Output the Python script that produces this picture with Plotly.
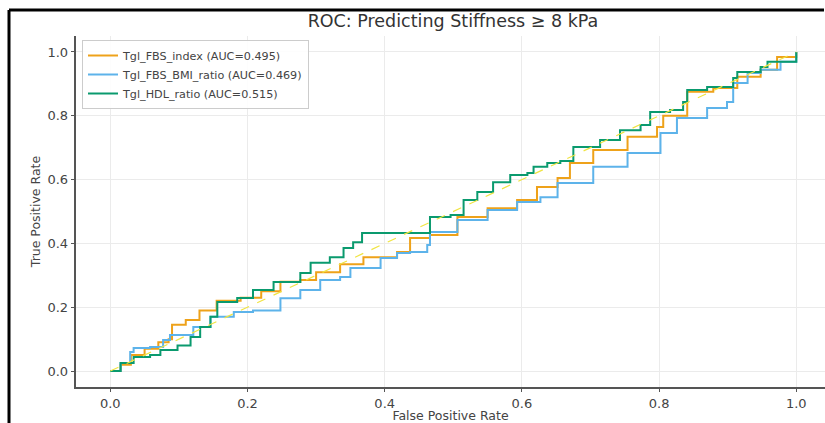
import plotly.graph_objects as go

# ---- data ----
fbs_index_fpr = [0, 0.015, 0.03, 0.05, 0.07, 0.085, 0.09, 0.11, 0.13, 0.155, 0.19, 0.22, 0.248, 0.277, 0.30,
                 0.335, 0.369, 0.418, 0.437, 0.466, 0.506, 0.55, 0.593, 0.622, 0.652, 0.67, 0.704, 0.754,
                 0.797, 0.806, 0.841, 0.879, 0.914, 0.948, 0.972, 1.0]
fbs_index_tpr = [0, 0.02, 0.05, 0.07, 0.09, 0.10, 0.145, 0.16, 0.19, 0.22, 0.23, 0.25, 0.28, 0.285, 0.31,
                 0.335, 0.357, 0.373, 0.417, 0.426, 0.483, 0.51, 0.536, 0.577, 0.605, 0.652, 0.693, 0.734,
                 0.765, 0.80, 0.875, 0.887, 0.922, 0.944, 0.984, 1.0]

fbs_bmi_fpr = [0, 0.015, 0.029, 0.034, 0.058, 0.077, 0.087, 0.106, 0.121, 0.146, 0.18, 0.208, 0.248, 0.277,
               0.306, 0.335, 0.35, 0.394, 0.418, 0.437, 0.462, 0.466, 0.506, 0.55, 0.593, 0.627, 0.652, 0.704,
               0.754, 0.802, 0.826, 0.87, 0.899, 0.908, 0.929, 0.948, 0.977, 1.0]
fbs_bmi_tpr = [0, 0.025, 0.06, 0.072, 0.075, 0.097, 0.113, 0.113, 0.138, 0.17, 0.185, 0.19, 0.228, 0.254,
               0.285, 0.295, 0.323, 0.354, 0.37, 0.373, 0.395, 0.436, 0.473, 0.505, 0.53, 0.545, 0.589, 0.64,
               0.683, 0.746, 0.793, 0.824, 0.843, 0.903, 0.934, 0.944, 0.969, 1.0]

hdl_fpr = [0, 0.015, 0.034, 0.058, 0.073, 0.098, 0.117, 0.131, 0.146, 0.156, 0.185, 0.208, 0.238, 0.277,
           0.292, 0.32, 0.34, 0.354, 0.367, 0.447, 0.466, 0.496, 0.515, 0.535, 0.558, 0.583, 0.608, 0.617,
           0.637, 0.656, 0.675, 0.714, 0.743, 0.773, 0.787, 0.816, 0.835, 0.841, 0.87, 0.908, 0.914, 0.948,
           0.958, 1.0]
hdl_tpr = [0, 0.025, 0.044, 0.05, 0.066, 0.08, 0.107, 0.138, 0.17, 0.216, 0.229, 0.254, 0.279, 0.307,
           0.339, 0.357, 0.386, 0.404, 0.433, 0.433, 0.483, 0.489, 0.536, 0.561, 0.592, 0.614, 0.621, 0.64,
           0.652, 0.658, 0.702, 0.724, 0.755, 0.771, 0.812, 0.818, 0.843, 0.881, 0.89, 0.918, 0.937, 0.953,
           0.969, 1.0]

chance_x = [0, 1]
chance_y = [0, 1]

series_names = ["Tgl_FBS_index (AUC=0.495)", "Tgl_FBS_BMI_ratio (AUC=0.469)", "Tgl_HDL_ratio (AUC=0.515)"]
series_colors = ["#EEA21A", "#5DB3EA", "#0A9A6E"]

tick_vals = [0.0, 0.2, 0.4, 0.6, 0.8, 1.0]
tick_text = ["0.0", "0.2", "0.4", "0.6", "0.8", "1.0"]

# ---- figure ----
W, H = 825, 423
L, R, T, B = 76, 0, 36, 36

fig = go.Figure()
for xs, ys, name, col in zip([fbs_index_fpr, fbs_bmi_fpr, hdl_fpr],
                             [fbs_index_tpr, fbs_bmi_tpr, hdl_tpr],
                             series_names, series_colors):
    fig.add_trace(go.Scatter(x=xs, y=ys, mode="lines", name=name,
                             line=dict(color=col, width=2, shape="hv")))
fig.add_trace(go.Scatter(x=chance_x, y=chance_y, mode="lines", showlegend=False,
                         line=dict(color="#F0E442", width=1.2, dash="dash")))

# frame lines (pixel -> paper)
pw, ph = W - L - R, H - T - B
def px(xp):
    return (xp - L) / pw
def py(yp):
    return (H - B - yp) / ph

fig.add_shape(type="line", xref="paper", yref="paper", x0=px(9), x1=px(824), y0=py(10), y1=py(10),
              line=dict(color="black", width=3))
fig.add_shape(type="line", xref="paper", yref="paper", x0=px(9), x1=px(9), y0=py(10), y1=py(424),
              line=dict(color="black", width=3))

axis_common = dict(
    showgrid=True, gridcolor="#ebebeb", gridwidth=1, zeroline=False,
    showline=True, linecolor="#555555", linewidth=1.5,
    ticks="outside", ticklen=3.5, tickcolor="#555555",
    tickvals=tick_vals, ticktext=tick_text,
    tickfont=dict(family="DejaVu Sans", size=13, color="#444444"),
    automargin=False,
)

fig.update_layout(
    width=W, height=H, autosize=False,
    margin=dict(l=L, r=R, t=T, b=B),
    paper_bgcolor="white", plot_bgcolor="white",
    font=dict(family="DejaVu Sans", color="#444444"),
    title=dict(text="ROC: Predicting Stiffness ≥ 8 kPa", x=453 / W, xanchor="center",
               y=1 - 21 / H, yanchor="middle", font=dict(size=17.5, color="#333333")),
    xaxis=dict(range=[-0.05, -0.05 + pw / 686],
               title=dict(text="False Positive Rate", font=dict(size=12.5, color="#444444"), standoff=0),
               **axis_common),
    yaxis=dict(range=[-0.05, 1.05],
               title=dict(text="True Positive Rate", font=dict(size=12.5, color="#444444"), standoff=4),
               **axis_common),
    legend=dict(x=px(82), y=py(40), xanchor="left", yanchor="top",
                bgcolor="rgba(255,255,255,0.9)", bordercolor="#cccccc", borderwidth=1,
                font=dict(family="DejaVu Sans", size=11.2, color="#444444"),
                itemwidth=30, tracegroupgap=0),
    showlegend=True,
)

fig.write_html("out.html",
               post_script="document.documentElement.style.overflow='hidden';"
                           "document.body.style.overflow='hidden';")
